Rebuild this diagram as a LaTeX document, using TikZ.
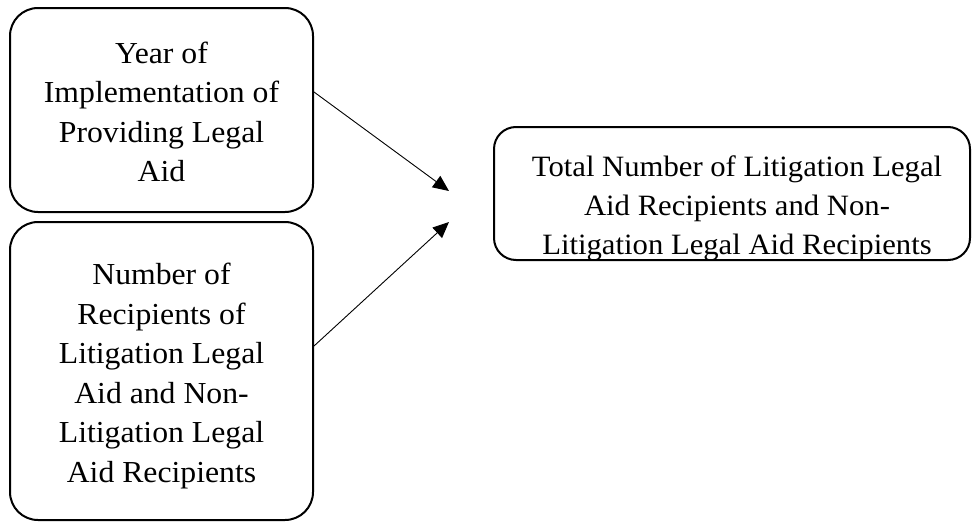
\documentclass[tikz,border=0pt]{standalone}
\usepackage{fontspec}
\setmainfont{Liberation Serif}[FakeStretch=1.04]
\usetikzlibrary{arrows.meta}
\tikzset{
  box/.style={draw=black, line width=2pt, rounded corners=28pt, inner sep=0pt},
  txt/.style={align=center, font=\fontsize{30.5}{39.5}\selectfont, inner sep=0pt},
  conn/.style={line width=0.9pt, -{Triangle[length=16pt,width=14pt]}}
}
\begin{document}
\begin{tikzpicture}[x=1pt,y=-1pt]
\useasboundingbox (0,0) rectangle (974,522);
% left top box
\node[box, minimum width=303pt, minimum height=204pt] (b1) at (161.5,110) {};
\node[txt] (t1) at (161.5,112) {Year of\\Implementation of\\Providing Legal\\Aid};
% left bottom box
\node[box, minimum width=303pt, minimum height=298pt] (b2) at (161.5,371) {};
\node[txt] (t2) at (161.5,376) {Number of\\Recipients of\\Litigation Legal\\Aid and Non-\\Litigation Legal\\Aid Recipients};
% right box
\node[box, rounded corners=22pt, minimum width=476pt, minimum height=133pt] (b3) at (732,193.5) {};
\node[txt, font=\fontsize{29.5}{39}\selectfont] (t3) at (737,208) {Total Number of Litigation Legal\\Aid Recipients and Non-\\Litigation Legal Aid Recipients};
% connectors
\coordinate (s1) at (313,92);
\coordinate (e1) at (449,191);
\coordinate (s2) at (313,346);
\coordinate (e2) at (449,222);
\draw[conn] (b1.east |- s1) -- (e1);
\draw[conn] (b2.east |- s2) -- (e2);
\end{tikzpicture}
\end{document}
